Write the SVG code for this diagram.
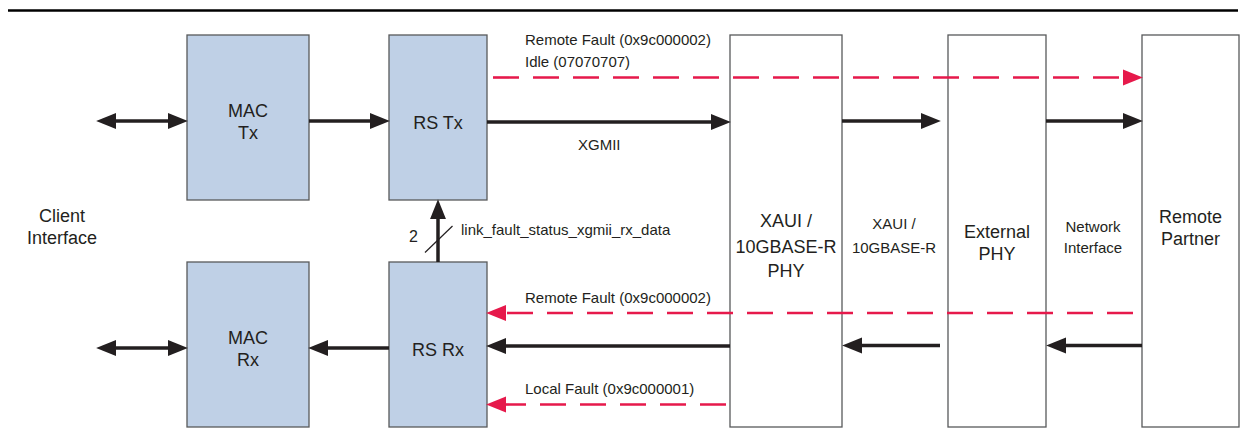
<svg xmlns="http://www.w3.org/2000/svg" width="1246" height="440" viewBox="0 0 1246 440">
<style>
  text { font-family: "Liberation Sans", Arial, sans-serif; fill: #231F20; }
  .big { font-size: 18px; text-anchor: middle; }
  .lbl { font-size: 15px; }
  .lblc { font-size: 15px; text-anchor: middle; }
  .blue { fill: #BFD0E6; stroke: #58595B; stroke-width: 1.3; }
  .white { fill: none; stroke: #58595B; stroke-width: 1.3; }
  .blk { stroke: #231F20; stroke-width: 3.5; fill: none; }
  .red { stroke: #E6194B; stroke-width: 2.6; fill: none; stroke-dasharray: 26 14; }
</style>
<defs>
  <marker id="ah" markerUnits="userSpaceOnUse" markerWidth="22" markerHeight="18" viewBox="0 -8 21 16" refX="1" refY="0" orient="auto-start-reverse">
    <path d="M0,-7.6 L19,0 L0,7.6 Z" fill="#231F20"/>
  </marker>
  <marker id="ahr" markerUnits="userSpaceOnUse" markerWidth="22" markerHeight="18" viewBox="0 -8 21 16" refX="1" refY="0" orient="auto-start-reverse">
    <path d="M0,-7.6 L19,0 L0,7.6 Z" fill="#E6194B"/>
  </marker>
</defs>
<rect width="1246" height="440" fill="#FFFFFF"/>
<line x1="8" y1="10.5" x2="1238" y2="10.5" stroke="#000000" stroke-width="2.6"/>

<g id="mac-tx"><rect class="blue" x="187" y="35" width="122" height="165"/><text class="big" x="248" y="117">MAC</text><text class="big" x="248" y="139">Tx</text></g>
<g id="rs-tx"><rect class="blue" x="389" y="35" width="98" height="165"/><text class="big" x="438" y="129">RS Tx</text></g>
<g id="mac-rx"><rect class="blue" x="187" y="262" width="122" height="165"/><text class="big" x="248" y="344">MAC</text><text class="big" x="248" y="366">Rx</text></g>
<g id="rs-rx"><rect class="blue" x="389" y="262" width="98" height="165"/><text class="big" x="438" y="356">RS Rx</text></g>
<g id="xaui-phy"><rect class="white" x="730" y="35" width="112" height="392"/><text class="big" x="786" y="227">XAUI /</text><text class="big" x="786" y="253">10GBASE-R</text><text class="big" x="786" y="277">PHY</text></g>
<g id="external-phy"><rect class="white" x="948" y="35" width="98" height="392"/><text class="big" x="997" y="238">External</text><text class="big" x="997" y="260">PHY</text></g>
<g id="remote-partner"><rect class="white" x="1142" y="35" width="97" height="392"/><text class="big" x="1190.5" y="223">Remote</text><text class="big" x="1190.5" y="245">Partner</text></g>
<g id="client-interface"><text class="big" x="62" y="222">Client</text><text class="big" x="62" y="244">Interface</text></g>

<g id="connectors">
  <line class="blk" x1="115" y1="121" x2="169" y2="121" marker-start="url(#ah)" marker-end="url(#ah)"/>
  <line class="blk" x1="309" y1="121" x2="371" y2="121" marker-end="url(#ah)"/>
  <line class="blk" x1="487" y1="122" x2="712" y2="122" marker-end="url(#ah)"/>
  <line class="blk" x1="842" y1="121" x2="922" y2="121" marker-end="url(#ah)"/>
  <line class="blk" x1="1046" y1="121" x2="1124" y2="121" marker-end="url(#ah)"/>
  <line class="red" x1="493" y1="77.5" x2="1124" y2="77.5" marker-end="url(#ahr)"/>

  <line class="red" x1="1133" y1="313" x2="505" y2="313" marker-end="url(#ahr)"/>
  <line class="blk" x1="730" y1="346" x2="505" y2="346" marker-end="url(#ah)"/>
  <line class="blk" x1="940" y1="345.5" x2="861" y2="345.5" marker-end="url(#ah)"/>
  <line class="blk" x1="1142" y1="345.5" x2="1065" y2="345.5" marker-end="url(#ah)"/>
  <line class="red" x1="726" y1="404.5" x2="505" y2="404.5" marker-end="url(#ahr)"/>
  <line class="blk" x1="389" y1="348" x2="327" y2="348" marker-end="url(#ah)"/>
  <line class="blk" x1="115" y1="348" x2="169" y2="348" marker-start="url(#ah)" marker-end="url(#ah)"/>

  <line class="blk" x1="438" y1="262" x2="438" y2="218" marker-end="url(#ah)"/>
  <line x1="425" y1="252.5" x2="452.5" y2="226" stroke="#231F20" stroke-width="1.2"/>

  <text class="lbl" x="525" y="45">Remote Fault (0x9c000002)</text>
  <text class="lbl" x="525" y="67">Idle (07070707)</text>
  <text class="lbl" x="578" y="150">XGMII</text>
  <text class="lbl" x="461" y="235">link_fault_status_xgmii_rx_data</text>
  <text x="409" y="242" style="font-size:16px">2</text>
  <text class="lblc" x="894" y="229">XAUI /</text>
  <text class="lblc" x="894" y="253">10GBASE-R</text>
  <text class="lblc" x="1093" y="232">Network</text>
  <text class="lblc" x="1093" y="253">Interface</text>
  <text class="lbl" x="525" y="303">Remote Fault (0x9c000002)</text>
  <text class="lbl" x="525" y="394">Local Fault (0x9c000001)</text>
</g>
</svg>
